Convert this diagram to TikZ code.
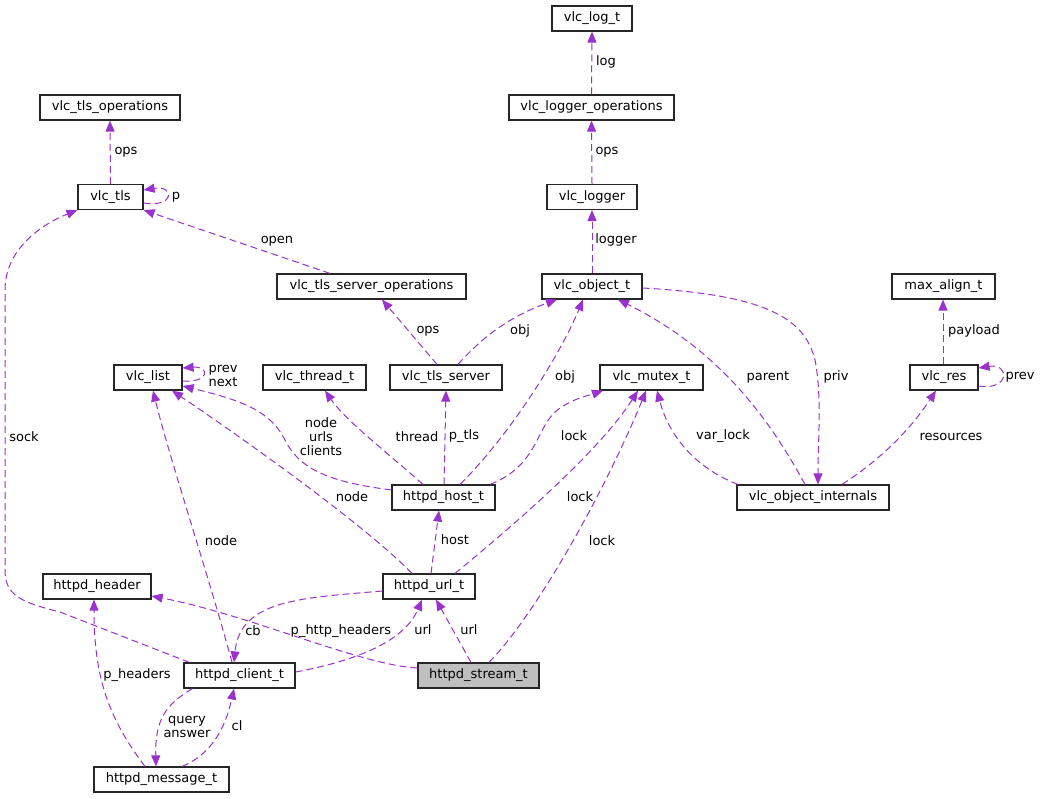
\documentclass[tikz,border=0pt]{standalone}
\usepackage{fontspec}
\setmainfont{DejaVu Sans}
\usetikzlibrary{arrows.meta}
\definecolor{edgec}{HTML}{9A32CD}
\definecolor{rootfill}{HTML}{BFBFBF}
\begin{document}
\begin{tikzpicture}[x=1pt,y=-1pt,
  box/.style={draw=black!85, line width=1.2pt, inner sep=0pt, minimum height=25pt, font=\fontsize{13}{15}\selectfont, fill=white},
  lbl/.style={inner sep=0pt, font=\fontsize{13}{14}\selectfont, align=center},
  edge/.style={draw=edgec, line width=1pt, dash pattern=on 7pt off 4pt, -{Triangle[length=11pt,width=9pt,fill=edgec]}}]
\fill[white] (0,0) rectangle (1041,799);
\useasboundingbox (0,0) rectangle (1041,799);

% nodes
\node[box, minimum width=80pt]  (loglt)  at (592,18.5)   {vlc\_log\_t};
\node[box, minimum width=165pt] (logops) at (591.5,107.5) {vlc\_logger\_operations};
\node[box, minimum width=90pt]  (logger) at (592,197)    {vlc\_logger};
\node[box, minimum width=140pt] (tlsops) at (110,107.5)  {vlc\_tls\_operations};
\node[box, minimum width=65pt]  (tls)    at (110.5,197)  {vlc\_tls};
\node[box, minimum width=189pt] (tlssrvops) at (371.5,286.5) {vlc\_tls\_server\_operations};
\node[box, minimum width=100pt] (obj)    at (592,286.5)  {vlc\_object\_t};
\node[box, minimum width=103pt] (maxal)  at (943.5,286.5) {max\_align\_t};
\node[box, minimum width=68pt]  (list)   at (148,377.5)  {vlc\_list};
\node[box, minimum width=103pt] (thread) at (314.5,377.5) {vlc\_thread\_t};
\node[box, minimum width=112pt] (tlssrv) at (446,377.5)  {vlc\_tls\_server};
\node[box, minimum width=103pt] (mutex)  at (651.5,377.5) {vlc\_mutex\_t};
\node[box, minimum width=68pt]  (res)    at (944,377.5)  {vlc\_res};
\node[box, minimum width=103pt] (host)   at (443.5,497.5) {httpd\_host\_t};
\node[box, minimum width=152pt] (objint) at (813,497.5)  {vlc\_object\_internals};
\node[box, minimum width=108pt] (header) at (97,586.5)   {httpd\_header};
\node[box, minimum width=92pt]  (url)    at (429,586.5)  {httpd\_url\_t};
\node[box, minimum width=111pt] (client) at (239.5,675.5) {httpd\_client\_t};
\node[box, minimum width=121pt, fill=rootfill] (stream) at (478.5,675.5) {httpd\_stream\_t};
\node[box, minimum width=135pt] (msg)    at (161.5,779.5) {httpd\_message\_t};

% edges
\draw[edge] (logops.north) -- (loglt.south);
\draw[edge] (logger.north) -- (logops.south);
\draw[edge] (obj.north) -- (logger.south);
\draw[edge] (tls.north) -- (tlsops.south);
\draw[edge] ([yshift=-6pt]tls.east) .. controls (175,208) and (175,185) .. ([yshift=7pt]tls.east);
\draw[edge] ([xshift=-41.5pt]tlssrvops.north) -- (tls.south east);
\draw[edge] ([xshift=6pt]client.north west) -- (60,612) .. controls (20,602) and (5,595) .. (5,570) -- (5,290) .. controls (5,250) and (40,225) .. (tls.south west);
\draw[edge] ([xshift=-9pt]tlssrv.north) -- ([xshift=10.5pt]tlssrvops.south);
\draw[edge] ([xshift=12pt]tlssrv.north) .. controls (478,342) and (505,318) .. ([xshift=-35pt]obj.south);
\draw[edge] ([xshift=16.5pt]host.north) .. controls (510,435) and (560,355) .. ([xshift=-9pt]obj.south);
\draw[edge] ([xshift=-8pt]objint.north) .. controls (770,420) and (720,350) .. ([xshift=26pt]obj.south);
\draw[edge] ([yshift=-1.5pt]obj.east) .. controls (770,295) and (805,320) .. (815,360) .. controls (822,395) and (818,440) .. ([xshift=5pt]objint.north);
\draw[edge] ([xshift=-1pt]res.north) -- ([xshift=-0.5pt]maxal.south);
\draw[edge] ([yshift=-8.5pt]res.east) .. controls (1010,391) and (1010,363) .. ([yshift=9.5pt]res.east);
\draw[edge] ([xshift=29pt]objint.north) .. controls (880,460) and (910,430) .. ([xshift=-8pt]res.south);
\draw[edge] ([xshift=-75pt]objint.north) .. controls (700,470) and (670,440) .. ([xshift=5.5pt]mutex.south);
\draw[edge] ([xshift=46.5pt]host.north) .. controls (540,465) and (535,425) .. (560,408) .. controls (575,398) and (590,395) .. ([xshift=-48.5pt]mutex.south);
\draw[edge] ([xshift=26pt]url.north) .. controls (520,520) and (600,450) .. ([xshift=-13.5pt]mutex.south);
\draw[edge] ([xshift=10.5pt]stream.north) .. controls (540,610) and (610,480) .. ([xshift=-5.5pt]mutex.south);
\draw[edge] ([yshift=-3.5pt]list.east) .. controls (210,383) and (210,366) .. ([yshift=9.5pt]list.east);
\draw[edge] ([yshift=7.5pt]host.west) .. controls (330,482) and (300,470) .. (285,440) .. controls (270,410) and (240,400) .. ([yshift=-8.5pt]list.east);
\draw[edge] ([xshift=-17pt]url.north) .. controls (370,530) and (260,450) .. ([xshift=24pt]list.south);
\draw[edge] ([xshift=-7.5pt]client.north) .. controls (210,580) and (170,460) .. ([xshift=5pt]list.south);
\draw[edge] ([xshift=-20.5pt]host.north) .. controls (390,455) and (345,420) .. ([xshift=10.5pt]thread.south);
\draw[edge] ([xshift=0.5pt]host.north) -- (tlssrv.south);
\draw[edge] ([xshift=2pt]url.north) -- ([xshift=-4.5pt]host.south);
\draw[edge] ([yshift=3.5pt]client.east) .. controls (360,660) and (405,640) .. ([xshift=-7pt]url.south);
\draw[edge] ([xshift=-7.5pt]stream.north) -- ([xshift=7pt]url.south);
\draw[edge] ([yshift=7.5pt]stream.west) .. controls (360,665) and (250,615) .. ([yshift=-9.5pt]header.east);
\draw[edge] ([yshift=-4.5pt]url.west) .. controls (300,598) and (240,600) .. ([xshift=-5.5pt]client.north);
\draw[edge] ([xshift=-16.5pt]msg.north) .. controls (110,720) and (94,680) .. ([xshift=-3pt]header.south);
\draw[edge] ([xshift=9pt]client.south west) .. controls (165,705) and (155,720) .. ([xshift=-5.5pt]msg.north);
\draw[edge] ([xshift=20.5pt]msg.north) .. controls (210,755) and (225,730) .. ([xshift=-5.5pt]client.south);

% labels
\node[lbl] (Llog) at (606,62) {log};
\node[lbl] (Lops1) at (607,152) {ops};
\node[lbl] (Llogger) at (616,240) {logger};
\node[lbl] (Lops2) at (126,152) {ops};
\node[lbl] (Lp) at (176,197) {p};
\node[lbl] (Lopen) at (277,241) {open};
\node[lbl] (Lsock) at (24,437) {sock};
\node[lbl] (Lops3) at (428,331) {ops};
\node[lbl] (Lobj1) at (520,331) {obj};
\node[lbl] (Lobj2) at (565,377) {obj};
\node[lbl] (Lparent) at (768,377) {parent};
\node[lbl] (Lpriv) at (836,377) {priv};
\node[lbl] (Lpayload) at (974,331) {payload};
\node[lbl] (Lprev) at (1020,377) {prev};
\node[lbl] (Lres) at (951,437) {resources};
\node[lbl] (Lvar) at (723,436) {var\_lock};
\node[lbl] (Llock1) at (574,436) {lock};
\node[lbl] (Llock2) at (580,497) {lock};
\node[lbl] (Llock3) at (602,541) {lock};
\node[lbl] (Lprevnext) at (223,376) {prev\\next};
\node[lbl] (Lnuc) at (321,437) {node\\urls\\clients};
\node[lbl] (Lnode1) at (352,497) {node};
\node[lbl] (Lnode2) at (221,541) {node};
\node[lbl] (Lthread) at (417,437) {thread};
\node[lbl] (Lptls) at (464,436) {p\_tls};
\node[lbl] (Lhost) at (455,540) {host};
\node[lbl] (Lurl1) at (423,630) {url};
\node[lbl] (Lurl2) at (469,630) {url};
\node[lbl] (Lphh) at (341,631) {p\_http\_headers};
\node[lbl] (Lcb) at (253,631) {cb};
\node[lbl] (Lph) at (137,675) {p\_headers};
\node[lbl] (Lqa) at (187,727) {query\\answer};
\node[lbl] (Lcl) at (237,726) {cl};
\end{tikzpicture}
\end{document}
